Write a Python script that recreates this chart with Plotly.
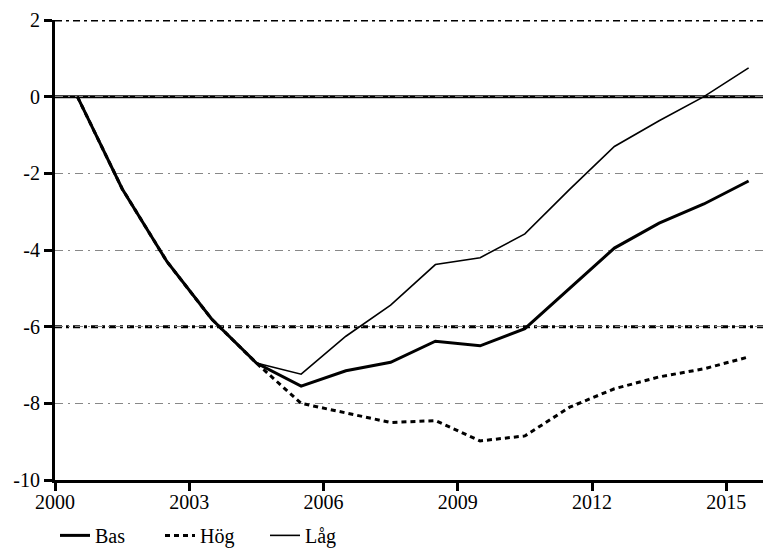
import plotly.graph_objects as go

# years are plotted at mid-year
years = [2000.5 + i for i in range(16)]

bas = [0, -2.4, -4.3, -5.8, -6.95, -7.55, -7.15, -6.93, -6.38, -6.5,
       -6.05, -5.0, -3.95, -3.3, -2.8, -2.2]
hog = [0, -2.4, -4.3, -5.8, -6.95, -8.0, -8.25, -8.5, -8.45, -8.98,
       -8.85, -8.1, -7.62, -7.31, -7.1, -6.79]
lag = [0, -2.4, -4.3, -5.8, -6.95, -7.24, -6.25, -5.44, -4.38, -4.2,
       -3.58, -2.42, -1.3, -0.63, 0.0, 0.75]

x_ticks = [2000, 2003, 2006, 2009, 2012, 2015]
y_ticks = [2, 0, -2, -4, -6, -8, -10]
y_labels = ["2", "0", "-2", "-4", "-6", "-8", "-10"]

font = "Liberation Serif"
tick_font = dict(family=font, size=20, color="black")

fig = go.Figure()
fig.add_trace(go.Scatter(x=years, y=bas, name="Bas", mode="lines",
                         line=dict(color="black", width=3)))
fig.add_trace(go.Scatter(x=years, y=hog, name="Hög", mode="lines",
                         line=dict(color="black", width=3, dash="5px,4px")))
fig.add_trace(go.Scatter(x=years, y=lag, name="Låg", mode="lines",
                         line=dict(color="black", width=1.6)))

# heavy reference lines at 2 and -6, solid zero line
for yv in [2, -6]:
    fig.add_shape(type="line", xref="paper", x0=0, x1=1, y0=yv, y1=yv,
                  line=dict(color="black", width=3, dash="7px,4px,3px,4px"),
                  layer="below")
fig.add_shape(type="line", xref="paper", x0=0, x1=1, y0=0, y1=0,
              line=dict(color="black", width=3), layer="below")

fig.update_xaxes(range=[2000, 2016], tickvals=x_ticks, automargin=False,
                 showgrid=False, zeroline=False, tickfont=tick_font,
                 showline=True, linecolor="black", linewidth=3,
                 ticks="outside", ticklen=8, tickwidth=3, tickcolor="black",
                 ticklabelstandoff=-6)
fig.update_yaxes(range=[-10, 2], tickvals=y_ticks, ticktext=y_labels,
                 automargin=False, tickfont=tick_font,
                 showgrid=True, gridcolor="#888888", gridwidth=1,
                 griddash="8px,5px,2px,5px", zeroline=False,
                 showline=True, linecolor="black", linewidth=3,
                 ticks="outside", ticklen=8, tickwidth=3, tickcolor="black")

# the page body adds an 8px margin, so the figure is 8px smaller
fig.update_layout(
    width=763, height=540,
    margin=dict(l=47, r=0, t=12, b=68, autoexpand=False),
    paper_bgcolor="white", plot_bgcolor="white",
    font=dict(family=font, size=20, color="black"),
    showlegend=True,
    legend=dict(orientation="h", x=0.0, xanchor="left", y=-0.078, yanchor="top",
                font=dict(family=font, size=20), entrywidth=60,
                entrywidthmode="pixels"),
)

fig.write_html("out.html")
